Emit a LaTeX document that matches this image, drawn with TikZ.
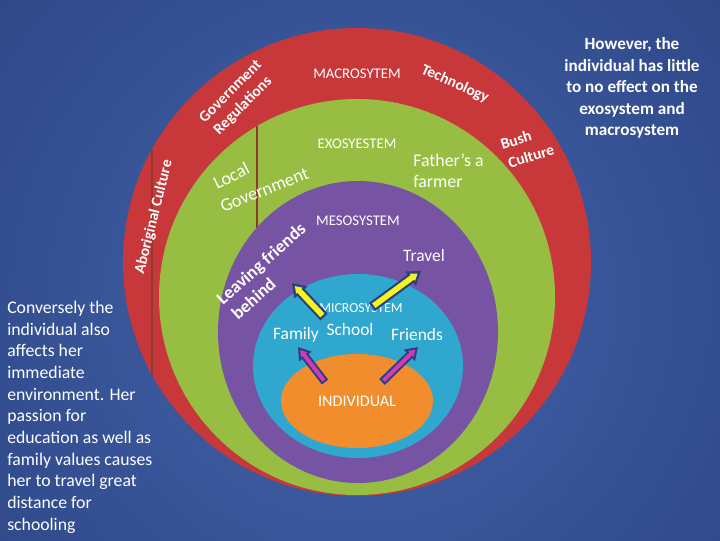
\documentclass[tikz,border=0pt]{standalone}
\usepackage{fontspec}
\setmainfont{Carlito}
\usetikzlibrary{arrows.meta}

\definecolor{bginner}{HTML}{4364AC}
\definecolor{bgouter}{HTML}{1B2D66}
\definecolor{macrored}{HTML}{C8383A}
\definecolor{exogreen}{HTML}{97BE43}
\definecolor{mesopurple}{HTML}{7753A4}
\definecolor{microcyan}{HTML}{2FA7CE}
\definecolor{indorange}{HTML}{F28D2E}
\definecolor{chordline}{HTML}{8E3A2A}
\definecolor{arrowedge}{HTML}{2B3F82}
\definecolor{arrowyellow}{HTML}{F4F41E}
\definecolor{arrowpink}{HTML}{D53AB2}

\begin{document}
\begin{tikzpicture}[
    x=0.025cm, y=-0.025cm,
    syslabel/.style={text=white, inner sep=0pt, font=\fontsize{10.5}{12}\selectfont},
    itemlabel/.style={text=white, inner sep=0pt, font=\fontsize{12.4}{15}\selectfont},
    ringword/.style={text=white, inner sep=0pt, font=\bfseries\fontsize{11}{13}\selectfont},
    note/.style={text=white, inner sep=0pt, font=\fontsize{12.6}{15.4}\selectfont},
    chord/.style={draw=chordline, line width=0.8pt},
    yarrow/.style={draw=arrowyellow, line width=4pt, -{Triangle[length=4.6pt,width=6pt]},
        shorten >=3pt, shorten <=1.6pt,
        preaction={draw=arrowedge, line width=7.1pt, -{Triangle[length=9.2pt,width=12.1pt]},
        shorten >=0pt, shorten <=0pt}},
    parrow/.style={draw=arrowpink, line width=2.8pt, -{Triangle[length=4.4pt,width=5.5pt]},
        shorten >=2.7pt, shorten <=1.4pt,
        preaction={draw=arrowedge, line width=5.7pt, -{Triangle[length=8.5pt,width=10.7pt]},
        shorten >=0pt, shorten <=0pt}}
]
\useasboundingbox (0,0) rectangle (720,540);
\begin{scope}
  \clip (0,0) rectangle (720,540);
  \shade[inner color=bginner, outer color=bgouter] (360,300) circle[radius=920];
\end{scope}

% nested systems
\fill[macrored] (357,262) circle[radius=234];
\coordinate (chordA1) at (152,149);
\coordinate (chordA2) at (152,375);
\draw[chord] (chordA1) -- (chordA2);
\fill[exogreen] (357,297) ellipse[x radius=198, y radius=198];
\coordinate (chordB1) at (257,126);
\coordinate (chordB2) at (257,228);
\draw[chord] (chordB1) -- (chordB2);
\fill[mesopurple] (358,332) ellipse[x radius=140, y radius=151];
\fill[microcyan] (358,366) ellipse[x radius=105, y radius=92];
\fill[indorange] (357,401) ellipse[x radius=76, y radius=47];

% system names
\node[syslabel] (macro) at (357,74) {MACROSYTEM};
\node[syslabel] (exo) at (357,144) {EXOSYESTEM};
\node[syslabel] (meso) at (358,221) {MESOSYSTEM};
\node[syslabel, font=\fontsize{9.8}{12}\selectfont] (micro) at (361,308) {MICROSYSTEM};
\node[syslabel, font=\fontsize{11.5}{13}\selectfont] (indiv) at (357,401) {INDIVIDUAL};

% microsystem items
\node[itemlabel] (school) at (350,329) {School};
\node[itemlabel] (family) at (296,335) {Family};
\node[itemlabel] (friends) at (417,335) {Friends};
\node[itemlabel] (travel) at (424,256) {Travel};
\node[itemlabel, align=left, anchor=west, font=\fontsize{12.7}{15}\selectfont] (father) at (413,171) {Father’s a\\farmer};

% words along the rings
\node[itemlabel, anchor=base west, rotate=27, font=\fontsize{13}{15}\selectfont] (local) at (217,190) {Local};
\node[itemlabel, anchor=base west, rotate=22, font=\fontsize{13}{15}\selectfont] (localgov) at (223,213) {Government};
\node[itemlabel, anchor=base west, rotate=42, font=\bfseries\fontsize{12.8}{15}\selectfont] (leaving) at (223,306) {Leaving friends};
\node[itemlabel, anchor=base west, rotate=42, font=\bfseries\fontsize{12.8}{15}\selectfont] (behind) at (238,321) {behind};
\node[ringword, rotate=45] (govreg1) at (230,91) {Government};
\node[ringword, rotate=45] (govreg2) at (243,106) {Regulations};
\node[ringword, rotate=76] (aborig) at (154,217) {Aboriginal Culture};
\node[ringword, rotate=-24] (tech) at (455,84) {Technology};
\node[ringword, rotate=17] (bush) at (516,140) {Bush};
\node[ringword, rotate=17] (bushcult) at (531,156) {Culture};

% influences
\coordinate (leaveTail) at (324,317);
\coordinate (leaveHead) at (292,283);
\coordinate (travelTail) at (372,307);
\coordinate (travelHead) at (421,271);
\coordinate (familyTail) at (325,382);
\coordinate (familyHead) at (298,347);
\coordinate (friendsTail) at (382,382);
\coordinate (friendsHead) at (418,347);
\draw[yarrow] (leaveTail) -- (leaveHead);
\draw[yarrow] (travelTail) -- (travelHead);
\draw[parrow] (familyTail) -- (familyHead);
\draw[parrow] (friendsTail) -- (friendsHead);

% side notes
\node[note, align=left, anchor=north west] (leftnote) at (7,301) {Conversely the\\individual also\\affects her\\immediate\\environment. Her\\passion for\\education as well as\\family values causes\\her to travel great\\distance for\\schooling};
\node[note, align=center, font=\bfseries\fontsize{12.2}{15.4}\selectfont] (rightnote) at (632,88) {However, the\\individual has little\\to no effect on the\\exosystem and\\macrosystem};
\end{tikzpicture}
\end{document}
